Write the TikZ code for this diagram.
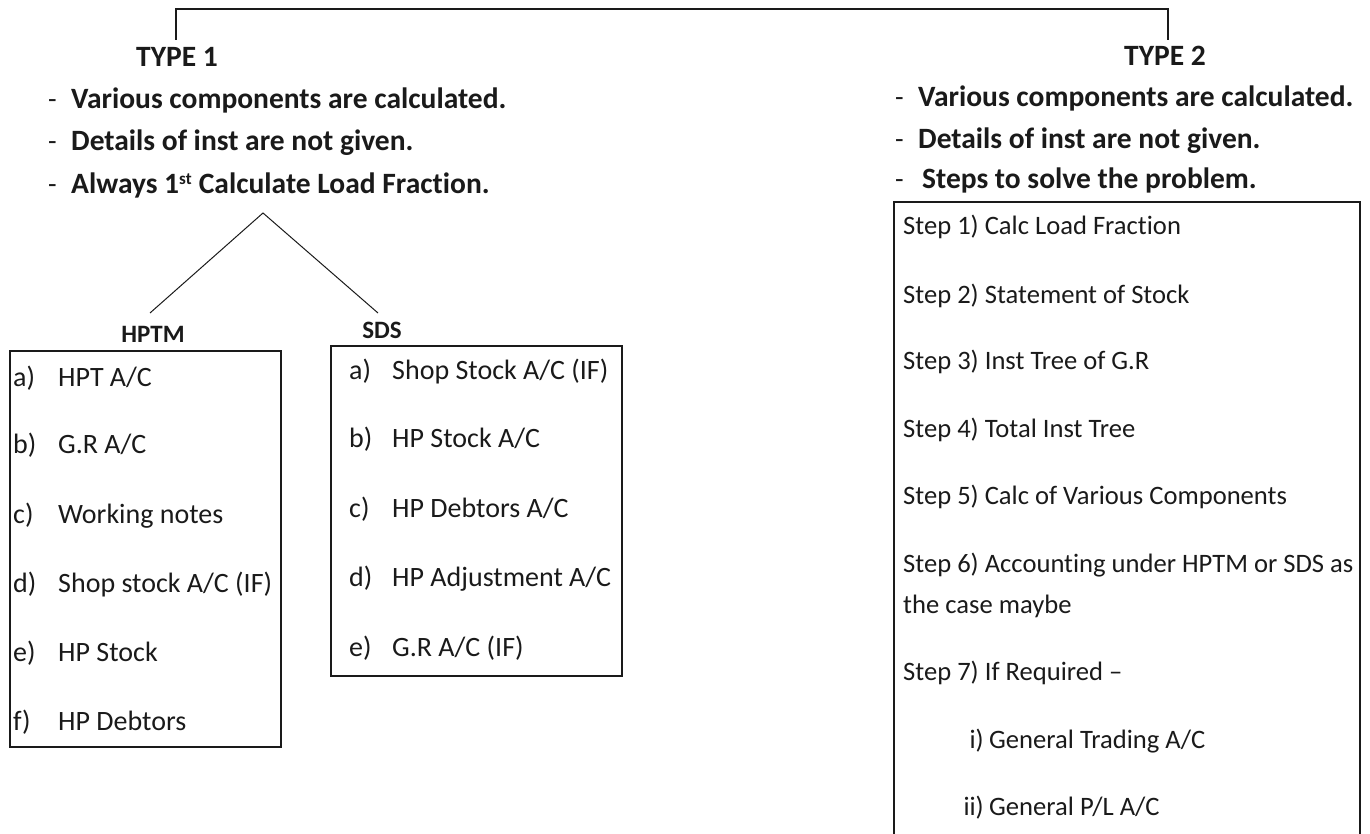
\documentclass[tikz,border=0pt]{standalone}
\usepackage{fontspec}
\setmainfont{Carlito}[Ligatures=NoCommon]
\definecolor{ink}{HTML}{1A1A1A}
\begin{document}
\begin{tikzpicture}[x=1pt,y=-1pt,
  head/.style={font=\fontsize{29.5}{34}\selectfont\bfseries, text=ink, inner sep=0pt, anchor=base},
  sub/.style={font=\fontsize{25}{30}\selectfont\bfseries, text=ink, inner sep=0pt, anchor=base},
  bul/.style={font=\fontsize{29.5}{34}\selectfont\bfseries, text=ink, inner sep=0pt, anchor=base west},
  hyph/.style={font=\fontsize{28}{32}\selectfont, text=ink, inner sep=0pt, anchor=base west},
  item/.style={font=\fontsize{28}{32}\selectfont, text=ink, inner sep=0pt, anchor=base west},
  lbl/.style={font=\fontsize{26.6}{30}\selectfont, text=ink, inner sep=0pt, anchor=base west},
  lble/.style={font=\fontsize{26.6}{30}\selectfont, text=ink, inner sep=0pt, anchor=base east},
  frame/.style={draw=ink, line width=1.5pt},
  link/.style={draw=ink, line width=1pt}]
\useasboundingbox (0,0) rectangle (1370,834);

% top bracket joining the two types
\coordinate (t1) at (176,40);
\coordinate (t2) at (1168,40);
\draw[link, line width=1.5pt] (t1) -- ++(0,-31) -| (t2);

% ---------- TYPE 1 ----------
\node[head] (type1) at (177,67) {TYPE 1};
\foreach \y/\t [count=\i] in {109/{Various components are calculated.}, 151/{Details of inst are not given.}, 194/{Always 1\textsuperscript{\fontsize{17}{17}\selectfont st} Calculate Load Fraction.}}{
  \node[hyph] (ad\i) at (48,\y) {-};
  \node[bul] (a\i) at (71,\y) {\t};
}

% split into the two methods
\coordinate (apex) at (263,213);
\coordinate (lt) at (150,313);
\coordinate (rt) at (378,313);
\draw[link] (lt) -- (apex) -- (rt);

\node[sub] (hptm) at (153,342) {HPTM};
\node[sub] (sds) at (382,338) {SDS};

% HPTM box
\node[frame, minimum width=271pt, minimum height=396pt, anchor=north west, inner sep=0pt] (hbox) at (9,350) {};
\foreach \l/\t/\y in {a)/{HPT A/C}/386, b)/{G.R A/C}/453, c)/{Working notes}/523, d)/{Shop stock A/C (IF)}/592, e)/{HP Stock}/661, f)/{HP Debtors}/730}{
  \node[item] at (13,\y) {\l};
  \node[item] at (58,\y) {\t};
}

% SDS box
\node[frame, minimum width=291pt, minimum height=330pt, anchor=north west, inner sep=0pt] (sbox) at (330,345) {};
\foreach \l/\t/\y in {a)/{Shop Stock A/C (IF)}/379, b)/{HP Stock A/C}/447, c)/{HP Debtors A/C}/517, d)/{HP Adjustment A/C}/586, e)/{G.R A/C (IF)}/656}{
  \node[item] at (349,\y) {\l};
  \node[item] at (392,\y) {\t};
}

% ---------- TYPE 2 ----------
\node[head] (type2) at (1165,66) {TYPE 2};
\foreach \y/\x/\t [count=\i] in {107/918/{Various components are calculated.}, 149/918/{Details of inst are not given.}, 189/922/{Steps to solve the problem.}}{
  \node[hyph] (bd\i) at (895,\y) {-};
  \node[bul] (b\i) at (\x,\y) {\t};
}

% steps box (runs past the lower edge)
\coordinate (s1) at (894,850);
\coordinate (s2) at (894,202);
\coordinate (s3) at (1360,202);
\coordinate (s4) at (1360,850);
\draw[frame] (s1) -- (s2) -- (s3) -- (s4);

\node[lbl] at (903,235) {Step 1) Calc Load Fraction};
\node[lbl] at (903,303) {Step 2) Statement of Stock};
\node[lbl] at (903,369) {Step 3) Inst Tree of G.R};
\node[lbl] at (903,437) {Step 4) Total Inst Tree};
\node[lbl] at (903,504) {Step 5) Calc of Various Components};
\node[lbl] at (903,572) {Step 6) Accounting under HPTM or SDS as};
\node[lbl] at (903,613) {the case maybe};
\node[lbl] at (903,680) {Step 7) If Required --};
\node[lble] at (984,748) {i)};
\node[lbl] at (989,748) {General Trading A/C};
\node[lble] at (984,815) {ii)};
\node[lbl] at (989,815) {General P/L A/C};
\end{tikzpicture}
\end{document}
